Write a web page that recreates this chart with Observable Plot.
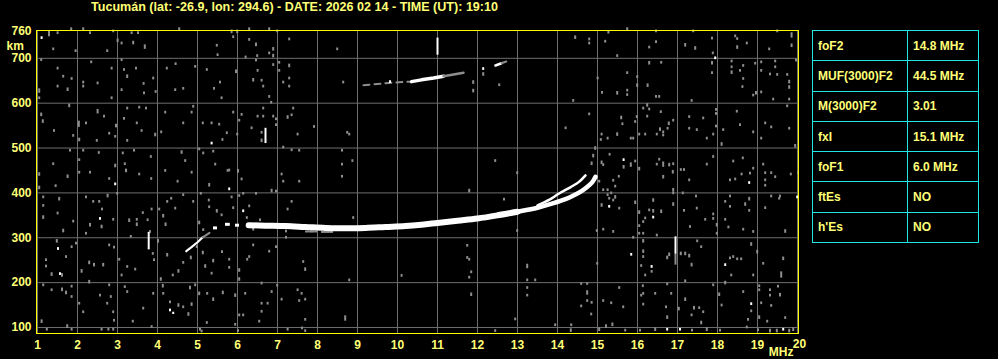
<!DOCTYPE html>
<html><head><meta charset="utf-8">
<script src="https://cdn.jsdelivr.net/npm/d3@7"></script>
<script src="https://cdn.jsdelivr.net/npm/@observablehq/plot@0.6"></script>
<style>
html,body{margin:0;padding:0;background:#000;}
#wrap{position:relative;width:998px;height:359px;overflow:hidden;background:#000;font-family:"Liberation Sans",Arial,sans-serif;font-weight:bold;font-size:12px;color:#ffff77;}
#chart{position:absolute;left:0;top:0;}
#title{position:absolute;left:91px;top:0;white-space:nowrap;line-height:14px;transform-origin:0 0;}
#params{position:absolute;left:812px;top:30px;border-collapse:collapse;table-layout:fixed;width:166px;}
#params td{border:1px solid #1ee6e6;height:29.3px;padding:0 0 0 5px;white-space:nowrap;overflow:hidden;}
</style></head>
<body><div id="wrap"><div id="chart"></div><div id="title"></div><table id="params"><colgroup><col style="width:95px"><col style="width:71px"></colgroup><tbody></tbody></table></div>
<script>
// ---- text ----
const titleText = "Tucumán (lat: -26.9, lon: 294.6) - DATE: 2026 02 14 - TIME (UT): 19:10";
const paramNames = ["foF2", "MUF(3000)F2", "M(3000)F2", "fxI", "foF1", "ftEs", "h'Es"];
const paramValues = ["14.8 MHz", "44.5 MHz", "3.01", "15.1 MHz", "6.0 MHz", "NO", "NO"];

// ---- axes ----
const xTicks = [1,2,3,4,5,6,7,8,9,10,11,12,13,14,15,16,17,18,19,20];
const yTicks = [100,200,300,400,500,600,700,760];
const yGrid = [100,200,300,400,500,600,700];

// ---- F2 trace (MHz, km) ----
const traceO = [[6.28,328],[6.7,327],[7.2,326],[7.7,324],[8.2,322],[8.7,321],[9.2,322],[9.7,324],[10.2,326],[10.6,329],[11.0,333],[11.5,338],[12.0,343],[12.5,350],[13.0,358],[13.5,367],[13.9,377],[14.2,386],[14.4,394],[14.6,404],[14.74,413],[14.87,424],[14.95,436]];
const traceX = [[13.5,372],[13.8,385],[14.03,398],[14.33,413],[14.53,424],[14.7,439]];
const traceLow = [[4.72,270],[4.85,279],[5.0,290],[5.13,301]];
const traceLowGray = [[5.13,301],[5.3,311]];
const lowDashes = [[5.4,5.5,322],[5.7,5.82,330],[5.95,6.05,328]];
const fringeGray = [[7.7,8.0,314],[8.1,8.4,313],[9.0,9.35,325]];
// second hop
const hop2Gray = [[9.15,640],[9.5,643],[9.9,646],[10.3,648]];
const hop2White = [[10.35,648],[10.6,652],[10.9,656],[11.15,660]];
const hop2Gray2 = [[11.15,660],[11.4,664],[11.65,668]];
const hop2White2 = [[12.45,684],[12.6,689]];
const hop2Gray3 = [[12.6,689],[12.72,693]];
// vertical spikes [MHz, km from, km to]
const spikes = [[11.0,707,745],[6.7,510,544],[3.78,273,312],[16.95,263,302]];
const spikesGray = [[16.95,239,263]];

// ---- background specks [MHz, km, length km] ----
const noiseLow = [
[1.275,748,14],[1.49,753],[1.83,762],[2.13,762],[2.3,753],[2.88,757],[2.99,735,8],[3.34,753],[3.38,730,8],[3.5,753],[3.67,720,10],[3.09,730],[4.53,762],[1.38,717],[1.94,713],[2.73,713],[5.47,725],[5.49,704],
[1.08,693],[1.49,674],[1.63,656],[1.84,651],[1.74,626,8],[1.49,634],[2.13,643],[2.13,634],[2.33,688],[2.49,641],[2.84,674],[2.84,608],[3.09,693],[3.15,671],[3.23,655,8],[3.09,626],[3.45,674],[3.64,640],[3.88,652],[3.65,619],[3.94,622],[4.22,674],[4.44,684],[4.63,629],[4.43,626],[4.93,678],[5.22,671],[5.4,629],[5.55,643],[5.59,608],[1.03,622,10],[1.03,608],
[1.78,590,8],[1.08,570,8],[1.12,555,8],[1.4,535],[1.88,524],[2.03,514,8],[2.02,546,14],[2.2,552],[2.49,576,10],[2.65,567],[2.95,545,8],[2.78,529],[2.93,522],[3.23,585],[3.15,562],[3.47,552],[3.53,587],[3.7,585],[3.59,535],[3.93,525,8],[3.23,513],[4.18,576],[4.08,532],[4.63,552],[4.84,576],[4.88,589],[5.12,552],[5.34,552],[5.53,549],[5.61,515],[5.72,530],[2.47,513],
[1.8,491],[1.38,461],[1.03,437,8],[1.74,432,8],[1.03,407,8],[1.44,412],[2.13,491],[2.03,470],[2.03,442],[2.3,442],[2.52,486],[2.93,456,8],[3.12,485],[3.4,491],[3.17,461],[3.2,445,8],[3.53,438],[3.82,477],[2.78,428],[3.83,428],[4.18,446],[4.49,422],[4.59,486,8],[4.68,468],[4.84,442],[5.03,494],[5.13,485],[5.38,489],[5.43,460],[5.28,413,8],[5.74,446],
[1.13,387],[1.53,382,8],[1.13,368],[1.13,341,8],[1.49,351],[1.63,311,8],[1.88,333],[2.2,387],[2.38,377],[2.53,377],[2.6,360],[2.3,324,8],[2.59,320,8],[2.2,306],[2.74,389,8],[2.88,337],[2.98,395],[3.28,334,8],[3.47,337],[3.62,352],[3.84,360],[3.74,336],[3.8,310],[3.47,325,8],[4.03,360],[4.13,344,8],[4.19,325,8],[4.23,377],[4.33,384],[4.43,362],[4.63,392],[4.88,377],[5.03,329,8],[5.13,314],[5.27,380],[5.47,355,8],[5.59,347],[5.28,365],[5.07,395],
[1.47,288,8],[1.84,276],[1.95,284],[1.2,247],[1.2,233],[1.34,214,8],[1.6,212,8],[1.7,254],[2.09,221,8],[2.28,240,8],[2.4,235,8],[2.63,235,8],[2.78,280],[2.9,275],[3.03,248],[3.09,213],[3.23,232],[3.43,226],[3.32,299],[3.87,261],[3.9,247],[4.0,288,8],[4.07,203,8],[4.23,257,8],[4.37,213],[4.51,221,8],[4.63,241],[4.82,251,8],[4.97,276],[5.12,262,8],[5.18,232,8],[5.38,244,8],[5.6,265],[5.34,217],
[1.13,191],[1.34,180],[1.6,180,8],[1.7,173,8],[1.84,188],[1.84,165],[2.03,150],[2.13,131],[2.28,197,8],[2.55,168],[2.78,191],[2.82,165],[2.73,150],[2.88,131],[2.9,112],[3.17,187],[3.23,176],[3.37,110],[3.63,139],[3.88,172],[4.12,188,8],[4.13,172],[4.3,153],[4.51,145,8],[4.63,142],[4.8,184,8],[4.84,147,8],[4.76,125,8],[4.93,191],[5.03,171,8],[5.23,172],[5.38,158,8],[5.22,107],[5.62,173,8],[1.09,109,8],
[1.22,92],[1.73,98,8],[1.84,92],[2.59,92],[2.76,92],[2.88,92],[3.84,98],[5.05,92],[5.09,88]
];
const noiseMid = [
[5.84,755,8],[5.98,755,8],[6.28,762],[6.78,762],[6.98,757],[5.88,744],[6.28,738],[6.45,726,8],[6.88,716,8],[6.78,708],[6.88,701,8],[7.28,739],[8.48,717],[6.19,699],[6.48,702],[6.45,692],[7.03,687],[6.88,682],[7.28,679,8],[5.95,666,8],[6.49,669],[7.03,669],[6.38,647,8],[6.59,647],[6.63,634],[7.28,652],[7.13,643],[7.28,634],[8.63,643],[6.78,611],[6.83,598],[5.88,576],[6.09,571],[6.03,558],[6.49,567],[6.63,585],[6.63,567],[6.88,567],[6.95,561],[6.95,548],[7.24,564,8],[7.34,570],[7.38,585],[6.34,541],[6.59,531],[6.59,512,8],[5.98,527],[7.49,527],[7.9,544],[8.73,531],[8.78,527],[7.13,498],[7.34,492],[7.53,491],[8.6,491],[8.86,468],[8.6,460],[8.6,433],[7.09,438],[7.13,422],[7.53,422],[5.78,447],[6.0,444,8],[6.09,427],[6.84,400,8],[6.95,400],[6.13,395],[6.45,395],[5.84,387],[6.03,390],[5.88,363],[6.28,367],[7.34,377],[7.24,360],[8.88,341],[6.22,341],[6.55,336],[6.38,315,8],[7.2,311],[7.2,297],[7.84,311],[6.38,280],[6.95,276],[6.78,266],[6.28,254],[6.23,248],[5.78,248],[5.78,230],[6.03,223,8],[6.03,203,8],[7.63,243],[7.68,225,8],[10.09,212],[8.78,202],[6.59,195],[6.98,190],[6.84,176],[7.49,180],[7.59,172],[7.53,156],[6.18,172],[5.93,167,8],[7.09,159],[7.68,159],[6.59,150],[6.74,150],[6.59,132],[6.03,124],[6.13,124],[6.53,110],[7.68,114],[8.68,114,12],[5.93,103],[7.24,92],[7.68,89],[6.0,89],[7.6,95],
[14.43,742,8],[14.78,739],[14.78,730],[15.18,734],[11.88,642,8],[11.88,623,8],[12.13,660,8],[12.53,637],[14.99,652],[15.1,620],[14.38,602],[14.78,572],[14.19,541],[15.09,527],[15.24,518],[12.43,468],[12.98,441],[11.78,400,8],[12.65,382],[14.93,495,8],[14.88,478,8],[14.84,461,8],[15.09,463,8],[15.13,459],[15.03,422],[15.13,403],[15.24,403],[15.09,368,8],[15.24,392],[14.97,312],[15.13,315],[12.98,312],[11.73,279],[11.73,252],[11.78,248],[11.83,220],[11.78,208],[11.83,169,8],[13.23,231,10],[13.23,202],[13.23,185],[13.23,168],[13.43,202],[14.58,194],[14.73,194],[14.73,172,10],[14.73,156],[14.84,152],[14.58,144],[14.83,126],[14.98,239],[15.13,156],[12.93,115],[13.93,102],[14.33,102],[14.32,89,8],[15.03,91,8],[12.43,89],[15.2,98,8]
];
const noiseHigh = [
[15.73,762],[16.45,757],[17.38,757],[18.43,746],[18.48,740],[18.72,730],[18.48,720,8],[19.48,757],[19.84,745,12],[19.84,724,8],[19.28,717],[16.28,721],[16.45,733],[17.18,725,8],[17.43,718,8],[17.87,708],[17.85,741],[15.48,702],[15.26,754],[16.28,685,8],[16.58,687],[15.73,664],[15.98,635,8],[15.98,655],[16.24,635,8],[15.48,618,8],[15.73,625],[15.73,615],[16.45,611],[16.53,611],[17.34,602],[17.85,685,8],[17.85,664],[18.34,690],[18.34,677],[18.34,664,8],[18.55,669],[18.63,680],[18.63,651],[18.61,633],[18.93,685],[19.08,688],[19.08,669],[19.3,661],[19.08,621],[18.95,618,8],[18.88,614],[19.43,690],[19.43,677],[19.48,660],[19.73,660],[19.78,643,8],[19.78,631,8],[19.38,605],[19.78,605],[19.95,692],
[16.13,585],[16.23,591,8],[16.28,583],[16.57,577],[16.77,550,8],[16.74,540],[16.63,532],[16.63,525],[16.88,558],[16.55,537,8],[16.23,567],[15.97,566],[15.93,555],[15.58,563,8],[15.61,550],[15.48,526,8],[15.82,518],[15.88,518],[16.03,527],[16.18,527],[16.47,527],[15.07,515],[17.28,566],[17.28,540],[17.47,537],[17.72,518],[17.63,563],[17.88,527],[17.95,582],[17.95,573],[17.95,545],[18.09,504,8],[18.13,537],[18.47,578],[18.55,548],[18.88,532],[19.08,518],[19.18,552],[19.33,543],[19.73,590],[19.78,540],[19.93,500,8],
[15.29,482],[15.64,453,8],[15.52,433],[15.38,424],[15.43,411],[15.43,386,8],[15.33,396],[15.82,457,10],[15.93,467],[16.03,449,8],[16.47,460],[16.53,471],[16.63,457,12],[16.63,431,8],[16.78,458,8],[16.87,442,8],[16.88,461],[17.07,448],[17.15,448],[17.28,425],[16.88,402,8],[16.88,396],[17.12,396],[17.72,460],[17.88,477],[18.38,467],[18.59,438],[18.43,427],[18.3,425],[18.62,474],[18.88,451],[18.8,440],[19.13,460],[19.18,441],[19.18,425],[19.18,413],[19.33,441],[19.43,432],[19.82,438],[20.0,441],[17.45,389],[18.3,389],[19.33,389],[19.55,389],
[15.28,384],[15.38,380],[15.53,362],[15.93,374,8],[16.03,352,8],[16.38,379,8],[16.38,355,8],[16.28,358],[16.58,354,8],[16.18,340],[16.13,332],[16.03,323],[16.03,306],[16.13,306],[15.38,310],[16.47,302],[16.88,370,8],[17.15,357],[17.3,321],[17.47,362],[17.68,337],[17.88,339],[17.88,349],[17.97,324,8],[17.97,306],[18.18,377],[18.18,337],[18.26,320],[18.3,366],[18.68,370,8],[18.78,382,8],[18.78,357],[18.88,310],[18.63,315],[19.18,363],[19.68,310,8],[19.53,384],
[15.88,297],[16.13,288,8],[16.13,265,8],[16.13,254],[16.08,234],[16.34,221],[16.18,213],[16.73,251,8],[16.78,258,8],[17.07,260,8],[17.18,260,8],[17.28,255,8],[17.48,289],[17.58,276],[17.34,235,8],[18.3,251],[18.48,249],[18.38,254],[18.83,281,8],[18.98,264,8],[18.88,213],[18.58,249],[18.33,213],[19.63,249,8],[19.58,210,14],[19.13,239],[17.18,200],[18.18,195,8],
[15.53,185],[15.33,151],[15.63,142],[16.12,189],[16.13,172],[16.08,168],[16.13,148],[16.43,172],[16.7,142],[16.73,118,8],[16.83,172],[16.73,193],[17.18,158,8],[17.02,137,8],[17.4,139,8],[17.53,140],[17.63,131],[17.34,124],[17.58,106,8],[17.88,191],[18.03,169,8],[18.09,146],[18.63,176],[18.83,133],[18.75,114],[19.03,189],[19.03,180],[19.03,118,8],[19.23,110],[19.3,180],[19.3,168],[19.5,188],[19.55,168,8],[19.68,118],[19.08,151],[19.33,145],
[15.36,102,8],[15.68,90],[16.05,90],[16.43,91,8],[17.35,90],[17.72,91,8],[18.05,90],[18.72,97],[19.0,91],[19.3,88,8],[19.47,88,8],[19.78,88,8],[19.88,91,8]
];
const whiteSpecks = [[1.09,742],[2.93,416],[2.55,339],[1.5,272],[1.55,216],[5.34,507],[4.3,135,6],[4.38,129,5],[5.78,405],[6.13,356],[9.8,644],[12.13,673],[17.93,697],[15.64,470],[18.78,419],[19.98,387],[15.28,366],[16.38,342],[15.83,259],[16.34,232],[18.18,236],[18.83,149],[16.73,92],[17.05,92],[19.63,92]];

// ---- colours ----
const gridColor = "#6e6e6e";
const speckColor = "#8e8e8e";
const yellowText = "#ffff77";

const noise = noiseLow.concat(noiseMid, noiseHigh);
const sp = {
  x1: d => d[0], x2: d => d[0] + 0.05,
  y1: d => d[1], y2: d => d[1] + (d[2] ?? 6)
};
const txt = {fontSize: 12, fontWeight: "bold", fill: yellowText, lineAnchor: "middle"};

const chart = Plot.plot({
  width: 998, height: 359,
  marginLeft: 36, marginRight: 200, marginTop: 30, marginBottom: 26,
  style: {background: "#000", color: yellowText, fontFamily: "'Liberation Sans', Arial, sans-serif", fontSize: "12px", fontWeight: "bold"},
  x: {domain: [0.975, 20.025], axis: null},
  y: {domain: [86.6, 762], axis: null},
  marks: [
    Plot.ruleX(xTicks, {stroke: gridColor, strokeWidth: 1}),
    Plot.ruleY(yGrid, {stroke: gridColor, strokeWidth: 1}),
    Plot.rect(noise, {...sp, fill: speckColor}),
    Plot.ruleY(fringeGray, {x1: d => d[0], x2: d => d[1], y: d => d[2], stroke: speckColor, strokeWidth: 2}),
    Plot.line(traceO, {x: d => d[0], y: d => d[1], stroke: "white", strokeWidth: 4.5, curve: "catmull-rom"}),
    Plot.line(traceO, {filter: d => d[0] <= 13.2, x: d => d[0], y: d => d[1], stroke: "white", strokeWidth: 6, curve: "catmull-rom"}),
    Plot.line(traceX, {x: d => d[0], y: d => d[1], stroke: "white", strokeWidth: 2.5, curve: "catmull-rom"}),
    Plot.line(traceLow, {x: d => d[0], y: d => d[1], stroke: "white", strokeWidth: 2.2}),
    Plot.line(traceLowGray, {x: d => d[0], y: d => d[1], stroke: speckColor, strokeWidth: 2}),
    Plot.ruleY(lowDashes, {x1: d => d[0], x2: d => d[1], y: d => d[2], stroke: "white", strokeWidth: 3}),
    Plot.line(hop2Gray, {x: d => d[0], y: d => d[1], stroke: speckColor, strokeWidth: 2, strokeDasharray: "6,5"}),
    Plot.line(hop2White, {x: d => d[0], y: d => d[1], stroke: "white", strokeWidth: 3.5}),
    Plot.line(hop2Gray2, {x: d => d[0], y: d => d[1], stroke: speckColor, strokeWidth: 2.5}),
    Plot.line(hop2White2, {x: d => d[0], y: d => d[1], stroke: "white", strokeWidth: 2.5}),
    Plot.line(hop2Gray3, {x: d => d[0], y: d => d[1], stroke: speckColor, strokeWidth: 2}),
    Plot.ruleX(spikes, {x: d => d[0], y1: d => d[1], y2: d => d[2], stroke: "white", strokeWidth: 2}),
    Plot.ruleX(spikesGray, {x: d => d[0], y1: d => d[1], y2: d => d[2], stroke: speckColor, strokeWidth: 2}),
    Plot.rect(whiteSpecks, {...sp, fill: "white"}),
    Plot.frame({stroke: "#ffff00", strokeWidth: 1}),
    Plot.axisX(xTicks.filter(v => v < 20), {anchor: "bottom", tickSize: 0, tickPadding: 7, fontSize: 12, fontWeight: "bold", color: yellowText}),
    Plot.text(xTicks.filter(v => v === 20), {...txt, x: d => d, frameAnchor: "bottom", dy: 11, dx: 2, text: d => String(d)}),
    Plot.text(["MHz"], {...txt, frameAnchor: "bottom-right", textAnchor: "end", dx: -5, dy: 19}),
    Plot.axisY(yTicks, {anchor: "left", tickSize: 0, tickPadding: 5, fontSize: 12, fontWeight: "bold", color: yellowText}),
    Plot.text(["km"], {...txt, frameAnchor: "top-left", textAnchor: "start", dx: -30, dy: 15.5})
  ]
});
document.getElementById("chart").appendChild(chart);

// title
const t = document.getElementById("title");
t.textContent = titleText;
const w = t.getBoundingClientRect().width;
if (w > 0) t.style.transform = `scaleX(${407 / w})`;

// parameter table
const tb = document.querySelector("#params tbody");
paramNames.forEach((n, i) => {
  const tr = document.createElement("tr");
  const a = document.createElement("td"); a.textContent = n;
  const b = document.createElement("td"); b.textContent = paramValues[i];
  tr.appendChild(a); tr.appendChild(b); tb.appendChild(tr);
});
</script>
</body></html>
